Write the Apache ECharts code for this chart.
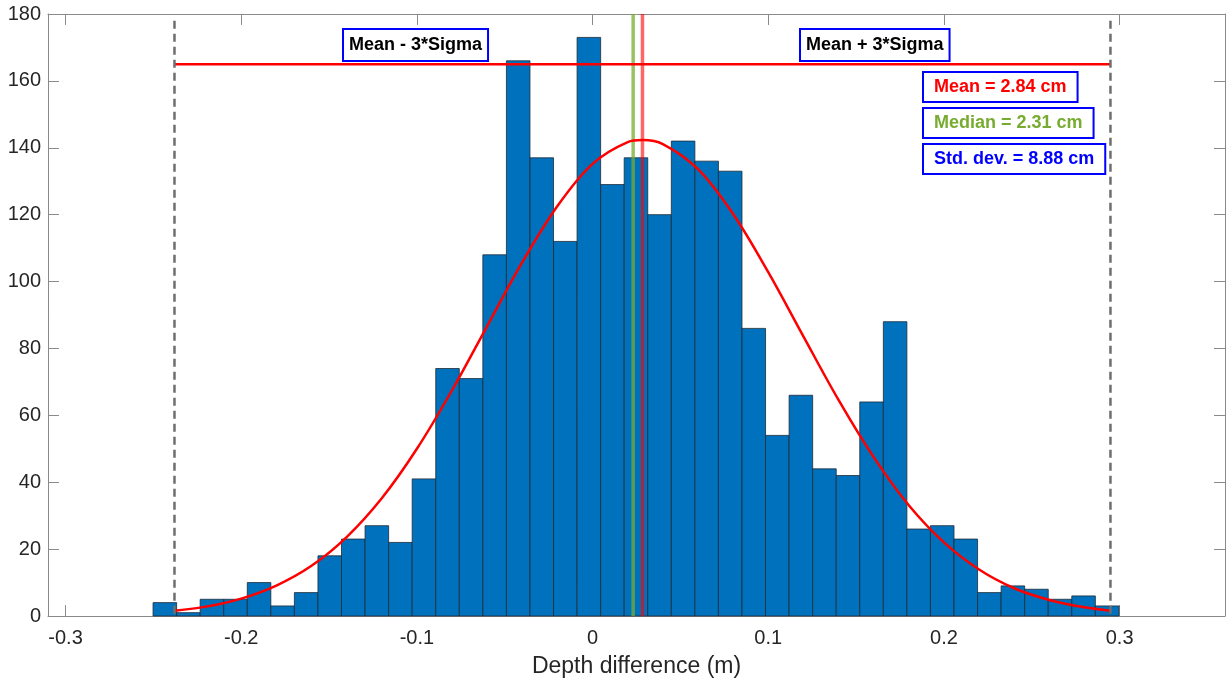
<!DOCTYPE html>
<html>
<head>
<meta charset="utf-8">
<title>Depth difference histogram</title>
<script src="https://cdn.jsdelivr.net/npm/echarts@6/dist/echarts.min.js"></script>
<style>
    html, body {
        margin: 0;
        padding: 0;
        background: #ffffff;
    }
    #chart {
        width: 1229px;
        height: 683px;
    }
</style>
</head>
<body>
<div id="chart"></div>
<script>
// histogram bins (m) and counts
const binStart = -0.2502;
const binWidth = 0.01341;
const counts = [
    4, 1, 5, 5, 10, 3, 7, 18, 23, 27, 22, 41, 74, 71, 108, 166, 137, 112, 173, 129, 137,
    120, 142, 136, 133, 86, 54, 66, 44, 42, 64, 88, 26, 27, 23, 7, 9, 8, 5, 6, 3
];

// fitted normal curve, read at these depths
const curveX = [
    -0.238, -0.22, -0.2, -0.18, -0.16, -0.14, -0.12, -0.1, -0.08, -0.06, -0.04, -0.02,
    0, 0.02, 0.0284, 0.04, 0.06, 0.08, 0.1, 0.12, 0.14, 0.16, 0.18, 0.2, 0.22, 0.24,
    0.26, 0.28, 0.2948
];
const curveY = [
    1.6, 2.8, 5.2, 9.1, 15.0, 23.6, 35.2, 50.0, 67.5, 86.7, 105.8, 122.6,
    135.2, 141.7, 142.3, 141.1, 133.6, 120.2, 102.8, 83.6, 64.6, 47.5, 33.1, 22.0, 13.9, 8.3,
    4.8, 2.6, 1.6
];

// stats
const meanVal = 0.0284;
const medianVal = 0.0231;
const sigmaBounds = [-0.238, 0.2948];
const sigmaLineLevel = 165;
const xTicksRange = [-0.31, 0.36];
const yTicksRange = [0, 180];
const xLabel = "Depth difference (m)";
const boxTexts = ["Mean - 3*Sigma", "Mean + 3*Sigma", "Mean = 2.84 cm", "Median = 2.31 cm", "Std. dev. = 8.88 cm"];

let bins = counts.map((c, i) => [binStart + i * binWidth, binStart + (i + 1) * binWidth, c]);

const FONT = '"Liberation Sans", Arial, Helvetica, sans-serif';
const AXIS_GREY = "#8a8a8a";

function xAx(pos, labels) {
    return {
        type: "value",
        position: pos,
        min: xTicksRange[0],
        max: xTicksRange[1],
        axisLine: { show: true, onZero: false, lineStyle: { color: AXIS_GREY, width: 1 } },
        axisTick: { show: true, inside: true, length: 11, lineStyle: { color: AXIS_GREY } },
        splitLine: { show: false },
        axisLabel: {
            show: labels,
            showMinLabel: false,
            showMaxLabel: false,
            margin: 12,
            color: "#262626",
            fontSize: 20,
            fontFamily: FONT,
        },
        name: labels ? xLabel : "",
        nameLocation: "middle",
        nameGap: 39,
        nameTextStyle: { color: "#262626", fontSize: 23, fontFamily: FONT },
    };
}

function yAx(pos, labels) {
    return {
        type: "value",
        position: pos,
        min: yTicksRange[0],
        max: yTicksRange[1],
        interval: 20,
        axisLine: { show: true, onZero: false, lineStyle: { color: AXIS_GREY, width: 1 } },
        axisTick: { show: true, inside: true, length: 11, lineStyle: { color: AXIS_GREY } },
        splitLine: { show: false },
        axisLabel: {
            show: labels,
            margin: 7,
            color: "#262626",
            fontSize: 20,
            fontFamily: FONT,
        },
    };
}

function box(text, left, top, color, padX, padY) {
    return {
        type: "text",
        left: left,
        top: top,
        z: 100,
        style: {
            text: text,
            font: "bold 18px " + FONT,
            fill: color,
            backgroundColor: "#ffffff",
            borderColor: "#0000ff",
            borderWidth: 2,
            padding: [padY, padX, padY, padX],
        },
    };
}

let chart = echarts.init(document.getElementById("chart"), null, { renderer: "canvas" });
chart.setOption({
    animation: false,
    backgroundColor: "#ffffff",
    grid: {
        left: 48,
        right: 4,
        top: 14,
        bottom: 67,
        containLabel: false,
        outerBoundsMode: "none",
    },
    xAxis: [xAx("bottom", true), xAx("top", false)],
    yAxis: [yAx("left", true), yAx("right", false)],
    series: [
        {
            type: "custom",
            name: "hist",
            xAxisIndex: 0,
            yAxisIndex: 0,
            encode: { x: [0, 1], y: 2 },
            data: bins,
            z: 2,
            renderItem: function (params, api) {
                let p0 = api.coord([api.value(0), api.value(2)]);
                let p1 = api.coord([api.value(1), 0]);
                return {
                    type: "rect",
                    shape: { x: p0[0], y: p0[1], width: p1[0] - p0[0], height: p1[1] - p0[1] },
                    style: { fill: "#0072BD", stroke: "#1e2a36", lineWidth: 0.8 },
                };
            },
        },
        {
            type: "line",
            name: "median",
            data: [[medianVal, yTicksRange[0]], [medianVal, yTicksRange[1]]],
            showSymbol: false,
            lineStyle: { color: "rgba(119,172,48,0.75)", width: 3.5 },
            z: 3,
        },
        {
            type: "line",
            name: "mean",
            data: [[meanVal, yTicksRange[0]], [meanVal, yTicksRange[1]]],
            showSymbol: false,
            lineStyle: { color: "rgba(255,0,0,0.6)", width: 3.5 },
            z: 3,
        },
        {
            type: "line",
            name: "fit",
            data: curveX.map((x, i) => [x, curveY[i]]),
            smooth: 0.35,
            showSymbol: false,
            lineStyle: { color: "#ff0000", width: 2.5 },
            z: 4,
        },
        {
            type: "line",
            name: "3sigma",
            data: sigmaBounds.map((x) => [x, sigmaLineLevel]),
            showSymbol: false,
            lineStyle: { color: "#ff0000", width: 2.5 },
            z: 4,
        },
        {
            type: "line",
            name: "lower",
            data: [[sigmaBounds[0], 178], [sigmaBounds[0], 0]],
            showSymbol: false,
            lineStyle: { color: "#6e6e6e", width: 2.5, type: [8, 5] },
            z: 5,
        },
        {
            type: "line",
            name: "upper",
            data: [[sigmaBounds[1], 178], [sigmaBounds[1], 0]],
            showSymbol: false,
            lineStyle: { color: "#6e6e6e", width: 2.5, type: [8, 5] },
            z: 5,
        },
    ],
    graphic: [
        box(boxTexts[0], 342, 28, "#000000", 5, 6),
        box(boxTexts[1], 799, 28, "#000000", 5, 6),
        box(boxTexts[2], 922, 71, "#ff0000", 10, 5),
        box(boxTexts[3], 922, 107, "#77ac30", 10, 5),
        box(boxTexts[4], 922, 143, "#0000ff", 10, 5),
    ],
});
</script>
</body>
</html>
